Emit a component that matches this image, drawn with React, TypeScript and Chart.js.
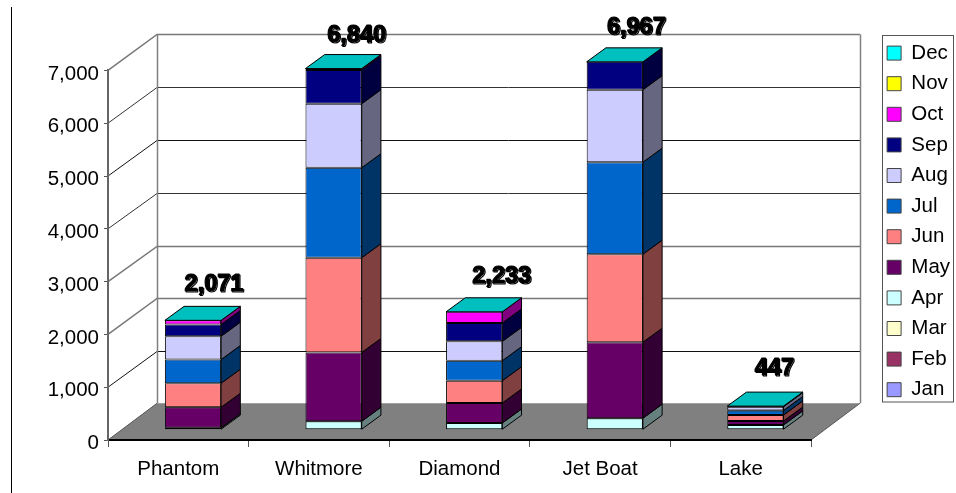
import React, { useEffect, useRef } from "react";
import { Chart, registerables } from "chart.js";

Chart.register(...registerables);

const categories = ["Phantom", "Whitmore", "Diamond", "Jet Boat", "Lake"];
const jan = [0, 0, 0, 0, 0];
const feb = [0, 0, 0, 0, 0];
const mar = [0, 0, 0, 0, 0];
const apr = [35, 160, 127, 218, 90];
const may = [390, 1303, 379, 1439, 75];
const jun = [455, 1794, 422, 1667, 114];
const jul = [449, 1705, 379, 1742, 85];
const aug = [441, 1212, 366, 1373, 73];
const sep = [222, 640, 348, 528, 10];
const oct = [79, 26, 212, 0, 0];
const nov = [0, 0, 0, 0, 0];
const dec = [0, 0, 0, 0, 0];
const totals = [2071, 6840, 2233, 6967, 447];

const FONT = "'Liberation Sans', Arial, sans-serif";
const SERIES: [string, number[], [number, number, number]][] = [
  ["Jan", jan, [153, 153, 255]],
  ["Feb", feb, [153, 51, 102]],
  ["Mar", mar, [255, 255, 204]],
  ["Apr", apr, [204, 255, 255]],
  ["May", may, [102, 0, 102]],
  ["Jun", jun, [255, 128, 128]],
  ["Jul", jul, [0, 102, 204]],
  ["Aug", aug, [204, 204, 255]],
  ["Sep", sep, [0, 0, 128]],
  ["Oct", oct, [255, 0, 255]],
  ["Nov", nov, [255, 255, 0]],
  ["Dec", dec, [0, 255, 255]],
];

const shade = (c: [number, number, number], f: number) =>
  `rgb(${Math.round(c[0] * f)},${Math.round(c[1] * f)},${Math.round(c[2] * f)})`;

// 3D projection of the plot box and the bars (style only)
const WALL_DX = 49;
const WALL_DY = 36;
const FLOOR_DY = 36.7;
const BAR_SHIFT_X = 14.7;
const BAR_SHIFT_Y = 10.3;
const BAR_DX = 19.2;
const BAR_DY = 14;
const GRID_STYLE: Record<number, [string, number]> = {
  1000: ["#111", 1],
  2000: ["#777", 1.5],
  3000: ["#777", 1.5],
  4000: ["#333", 1],
  5000: ["#111", 1],
  6000: ["#333", 1],
  7000: ["#777", 1.5],
};
const LABEL_NUDGE = [[21, -36], [23, -33], [27.5, -35], [21.5, -34], [19, -38]];

const poly = (ctx: CanvasRenderingContext2D, pts: number[][]) => {
  ctx.beginPath();
  pts.forEach((p, i) => (i ? ctx.lineTo(p[0], p[1]) : ctx.moveTo(p[0], p[1])));
  ctx.closePath();
};

const scene = {
  id: "scene3d",
  beforeLayout(chart: any) {
    // the legend sits in a fixed column right of the 3D box
    const l = chart.legend;
    if (l && !l.__wrapped) {
      const fit = l.fit;
      l.fit = function () {
        fit.call(this);
        this.width = 145;
      };
      l.__wrapped = true;
    }
  },
  afterLayout(chart: any) {
    const l = chart.legend;
    l.left = 877;
    l.right = 960;
    l.top = 32.75;
    l.bottom = 493;
  },
  beforeDraw(chart: any) {
    const ctx: CanvasRenderingContext2D = chart.ctx;
    const x = chart.scales.x;
    const y = chart.scales.y;
    const y0 = y.getPixelForValue(0);
    const yTop = y.getPixelForValue(7000);
    ctx.save();
    ctx.fillStyle = "#fff";
    ctx.fillRect(0, 0, chart.width, chart.height);
    // page rule on the left
    ctx.strokeStyle = "#000";
    ctx.lineWidth = 1;
    ctx.beginPath();
    ctx.moveTo(11.5, 7);
    ctx.lineTo(11.5, 493);
    ctx.stroke();
    // legend frame
    ctx.strokeStyle = "#555";
    ctx.strokeRect(882.5, 35.5, 71, 366.5);
    // floor
    poly(ctx, [
      [x.left, y0],
      [x.left + WALL_DX, y0 - FLOOR_DY],
      [x.right + WALL_DX, y0 - FLOOR_DY],
      [x.right, y0],
    ]);
    ctx.fillStyle = "#808080";
    ctx.fill();
    ctx.strokeStyle = "#555";
    ctx.lineWidth = 1;
    ctx.beginPath();
    ctx.moveTo(x.right, y0);
    ctx.lineTo(x.right + WALL_DX, y0 - FLOOR_DY);
    ctx.moveTo(x.left, y0);
    ctx.lineTo(x.left + WALL_DX, y0 - FLOOR_DY);
    ctx.stroke();
    // grid lines on side wall and back wall
    y.ticks.forEach((t: any) => {
      if (!t.value) return;
      const py = y.getPixelForValue(t.value);
      const [col, w] = GRID_STYLE[t.value] || ["#333", 1];
      const by = Math.round(py - WALL_DY) + 0.5;
      ctx.strokeStyle = col;
      ctx.lineWidth = w;
      ctx.beginPath();
      ctx.moveTo(x.left, py);
      ctx.lineTo(x.left + WALL_DX, by);
      ctx.lineTo(x.right + WALL_DX, by);
      ctx.stroke();
    });
    // wall edges
    ctx.strokeStyle = "#808080";
    ctx.lineWidth = 1.5;
    ctx.beginPath();
    ctx.moveTo(x.left + WALL_DX + 0.5, yTop - WALL_DY);
    ctx.lineTo(x.left + WALL_DX + 0.5, y0 - FLOOR_DY);
    ctx.moveTo(x.right + WALL_DX + 0.5, yTop - WALL_DY);
    ctx.lineTo(x.right + WALL_DX + 0.5, y0 - FLOOR_DY);
    ctx.stroke();
    ctx.restore();
  },
  beforeDatasetsDraw(chart: any) {
    const ctx: CanvasRenderingContext2D = chart.ctx;
    ctx.save();
    ctx.translate(BAR_SHIFT_X, -BAR_SHIFT_Y);
    ctx.strokeStyle = "#000";
    ctx.lineWidth = 1;
    ctx.lineJoin = "round";
    const n = SERIES.length;
    categories.forEach((_, j) => {
      for (let i = 0; i < n; i++) {
        const b = chart.getDatasetMeta(i).data[j];
        const r = b.x + b.width / 2;
        if (Math.abs(b.base - b.y) < 0.01) continue;
        poly(ctx, [
          [r, b.y],
          [r + BAR_DX, b.y - BAR_DY],
          [r + BAR_DX, b.base - BAR_DY],
          [r, b.base],
        ]);
        ctx.fillStyle = shade(SERIES[i][2], 0.5);
        ctx.fill();
        ctx.stroke();
      }
      // top face takes the colour of the last series in the stack
      const t = chart.getDatasetMeta(n - 1).data[j];
      const l = t.x - t.width / 2;
      const r = t.x + t.width / 2;
      poly(ctx, [
        [l, t.y],
        [l + BAR_DX, t.y - BAR_DY],
        [r + BAR_DX, t.y - BAR_DY],
        [r, t.y],
      ]);
      ctx.fillStyle = shade(SERIES[n - 1][2], 0.75);
      ctx.fill();
      ctx.stroke();
    });
  },
  afterDatasetsDraw(chart: any) {
    const ctx: CanvasRenderingContext2D = chart.ctx;
    ctx.restore();
    ctx.save();
    const x = chart.scales.x;
    const y = chart.scales.y;
    ctx.font = `bold 23.5px ${FONT}`;
    ctx.textAlign = "center";
    ctx.textBaseline = "middle";
    ctx.fillStyle = "#000";
    ctx.strokeStyle = "#000";
    ctx.lineWidth = 1.2;
    ctx.lineJoin = "round";
    totals.forEach((v, j) => {
      const px = x.getPixelForValue(j) + BAR_SHIFT_X + LABEL_NUDGE[j][0];
      const py = y.getPixelForValue(v) - BAR_SHIFT_Y + LABEL_NUDGE[j][1];
      const s = v.toLocaleString("en-US");
      ctx.strokeText(s, px, py);
      ctx.fillText(s, px, py);
      ctx.strokeText(s, px + 1, py + 1);
    });
    ctx.restore();
  },
};

export default function App() {
  const ref = useRef<HTMLCanvasElement>(null);
  useEffect(() => {
    const chart = new Chart(ref.current!, {
      type: "bar",
      data: {
        labels: categories,
        datasets: SERIES.map(([label, data, c]) => ({
          label,
          data,
          backgroundColor: shade(c, 1),
          borderColor: "#000",
          borderWidth: 1,
          borderSkipped: false,
          barPercentage: 0.4,
          categoryPercentage: 1,
          clip: false,
        })),
      } as any,
      plugins: [scene],
      options: {
        responsive: false,
        animation: false,
        events: [],
        layout: { padding: { top: 70.4, left: 0, right: 0, bottom: 0 } },
        scales: {
          x: {
            stacked: true,
            afterFit: (s: any) => {
              s.height = 53;
            },
            grid: {
              drawOnChartArea: false,
              color: "#555",
              tickLength: 7,
            },
            border: { color: "#000", width: 2 },
            ticks: {
              color: "#000",
              font: { family: FONT, size: 20.5 },
              maxRotation: 0,
              autoSkip: false,
              padding: 10,
            },
          },
          y: {
            stacked: true,
            min: 0,
            max: 7000,
            afterFit: (s: any) => {
              s.width = 108;
            },
            grid: {
              drawOnChartArea: false,
              color: "#555",
              tickLength: 4,
            },
            border: { color: "#666", width: 2 },
            ticks: {
              stepSize: 1000,
              color: "#000",
              font: { family: FONT, size: 20.5 },
              padding: 5,
              labelOffset: 3.5,
              callback: (v: any) => Number(v).toLocaleString("en-US"),
            },
          },
        },
        plugins: {
          tooltip: { enabled: false },
          title: { display: false },
          legend: {
            display: true,
            position: "right",
            align: "start",
            reverse: true,
            labels: {
              boxWidth: 14,
              boxHeight: 14,
              padding: 10.1,
              color: "#000",
              font: { family: FONT, size: 20.5 },
              generateLabels: (c: any) =>
                c.data.datasets.map((d: any, i: number) => ({
                  text: d.label,
                  fillStyle: d.backgroundColor,
                  strokeStyle: "#444",
                  lineWidth: 1,
                  hidden: false,
                  datasetIndex: i,
                })),
            },
          },
        },
      },
    } as any);
    return () => chart.destroy();
  }, []);
  return (
    <div style={{ position: "absolute", left: 0, top: 0 }}>
      <canvas ref={ref} width={956} height={493} style={{ display: "block" }} />
    </div>
  );
}
